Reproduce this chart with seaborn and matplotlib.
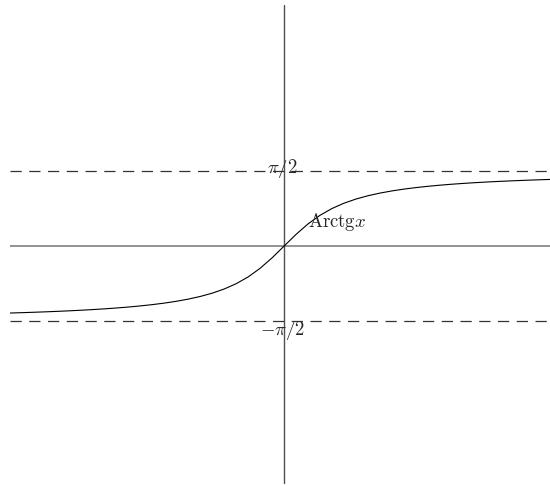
import numpy as np
import pandas as pd
import matplotlib
matplotlib.use("Agg")
import matplotlib.pyplot as plt
import seaborn as sns

sns.set_style("white")
plt.rcParams['mathtext.fontset'] = 'cm'
plt.rcParams['font.family'] = ['DejaVu Serif']

x_pos = [0.0, 0.25, 0.5, 0.75, 1.0, 1.25, 1.5, 1.75, 2.0, 2.25, 2.5, 2.75, 3.0,
         3.25, 3.5, 3.75, 4.0, 4.25, 4.5, 4.75, 5.0, 5.25, 5.5, 5.75, 6.0]
y_pos = [0.0, 0.2450, 0.4636, 0.6435, 0.7854, 0.8961, 0.9828, 1.0517, 1.1071,
         1.1526, 1.1903, 1.2220, 1.2490, 1.2723, 1.2925, 1.3102, 1.3258, 1.3398,
         1.3521, 1.3633, 1.3734, 1.3826, 1.3909, 1.3986, 1.4056]
x_vals = [-v for v in x_pos[:0:-1]] + x_pos
y_vals = [-v for v in y_pos[:0:-1]] + y_pos

asymptotes = [1.5708, -1.5708]
asym_labels = [r'$\pi/2$', r'$-\pi/2$']
curve_label = r'$\mathrm{Arctg}x$'

df = pd.DataFrame({"x": x_vals, "y": y_vals})

fig = plt.figure(figsize=(5.5, 4.86), dpi=100)
ax = fig.add_axes([10/550, 0, 540/550, 1])
ax.set_xlim(-5.72, 5.55)
ax.set_ylim(-5.01, 5.14)
ax.axis('off')

# axes
ax.axhline(0, color='#8a8a8a', lw=1.3, zorder=1)
ax.plot([0, 0], [-4.95, 5.03], color='#505050', lw=1.0, zorder=1)

# asymptotes
for a in asymptotes:
    ax.axhline(a, color='#333333', lw=0.9, dashes=(9, 6), zorder=1)

sns.lineplot(data=df, x="x", y="y", color='black', lw=0.8, ax=ax, zorder=3)

ax.text(-0.03, asymptotes[0] - 0.04, asym_labels[0], ha='center', va='baseline', fontsize=13.5)
ax.text(-0.03, asymptotes[1] + 0.05, asym_labels[1], ha='center', va='top', fontsize=13.5)
ax.text(0.5, 0.5, curve_label, ha='left', va='center', fontsize=13.5)

fig.savefig("out.png", dpi=100)
